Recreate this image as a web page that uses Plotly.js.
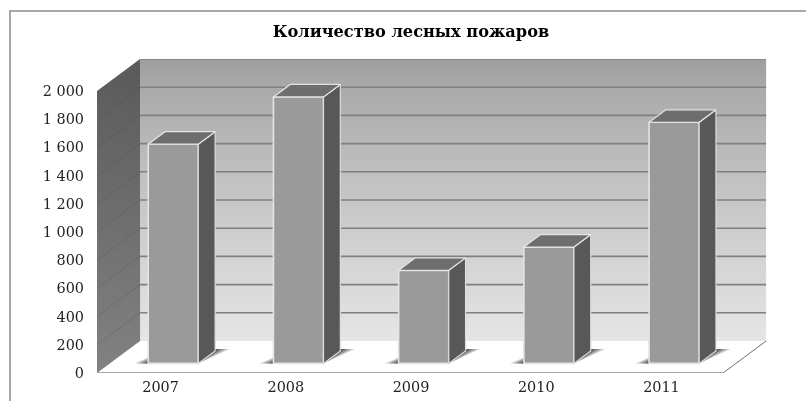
<!DOCTYPE html>
<html><head><meta charset="utf-8">
<script src="https://cdn.plot.ly/plotly-3.0.1.min.js"></script>
<style>html,body{margin:0;padding:0;background:#fff;overflow:hidden}
#frame{position:absolute;left:9px;top:10px;width:900px;height:500px;border:2px solid #a8a8a8;box-sizing:border-box;filter:blur(0.4px)}
#chart{position:absolute;left:0;top:0;width:806px;height:401px;filter:blur(0.45px)}</style>
</head><body>
<div id="frame"></div>
<div id="chart"></div>
<script>
const categories = ['2007','2008','2009','2010','2011'];
const fires = [1555, 1890, 660, 825, 1710];
const yTicks = [0,200,400,600,800,1000,1200,1400,1600,1800,2000];
const yTickLabels = ['0','200','400','600','800','1 000','1 200','1 400','1 600','1 800','2 000'];
const chartTitle = 'Количество лесных пожаров';

const yMax = 2000;
const depthX = 0.344, depthY = 227;      // full-depth shift, in data units
const xMin = -0.5, xMax = 4.851, xFloorMax = 4.5;
const barHalf = 0.2, barShift = 0.006, dFront = 0.30, dBack = 0.69, dShadow = 0.75;
const P = (x,y,d) => [x + d*depthX, y + d*depthY];
function poly(pts, extra, second){
  const pp = pts.concat([pts[0]]);
  return Object.assign({type:'scatter',mode:'lines',x:pp.map(p=>p[0]),y:pp.map(p=>p[1]),
    fill:'toself',line:{width:0},hoverinfo:'skip',showlegend:false}, second?{xaxis:'x2',yaxis:'y2'}:{}, extra);
}
function vgrad(stops){return {fillgradient:{type:'vertical',colorscale:stops}};}
const traces = [];
// floor
traces.push(poly([P(xMin,0,0),P(xFloorMax,0,0),P(xFloorMax,0,1),P(xMin,0,1)],{fillcolor:'#ffffff'}));
// back wall
traces.push(poly([P(xMin,0,1),P(xFloorMax,0,1),P(xFloorMax,yMax,1),P(xMin,yMax,1)],
  vgrad([[0,'#e6e6e6'],[0.5,'#c6c6c6'],[0.9,'#aaaaaa'],[1,'#9e9e9e']])));
// left wall
traces.push(poly([P(xMin,0,0),P(xMin,0,1),P(xMin,yMax,1),P(xMin,yMax,0)],
  vgrad([[0,'#828282'],[1,'#5a5a5a']])));
// gridlines
const gx=[],gy=[],lx=[],ly=[];
yTicks.forEach(t=>{
  const a=P(xMin,t,1), b=P(xFloorMax,t,1), c=P(xMin,t,0);
  if(t>0){gx.push(a[0],b[0],null); gy.push(a[1],b[1],null);}
  if(t>0 && t<yMax){lx.push(c[0],a[0],null); ly.push(c[1],a[1],null);}
});
traces.push({type:'scatter',mode:'lines',x:gx,y:gy,line:{color:'#808080',width:1.6},hoverinfo:'skip',showlegend:false});
traces.push({type:'scatter',mode:'lines',x:lx,y:ly,line:{color:'rgba(70,70,70,0.22)',width:1},hoverinfo:'skip',showlegend:false});
// floor edges
const e1=[P(xMin,0,0),P(xFloorMax,0,0)];
traces.push({type:'scatter',mode:'lines',x:e1.map(p=>p[0]),y:e1.map(p=>p[1]),line:{color:'#a6a6a6',width:2},hoverinfo:'skip',showlegend:false});
const e2=[P(xFloorMax,0,0),P(xFloorMax,0,1)];
traces.push({type:'scatter',mode:'lines',x:e2.map(p=>p[0]),y:e2.map(p=>p[1]),line:{color:'#6e6e6e',width:1},hoverinfo:'skip',showlegend:false});
// floor shadows (on the base axes so the bars sit above them)
categories.forEach((c,i)=>{
  const cx = i + barShift;
  [[0.11,0.095,0.25],[0.08,0.065,0.35],[0.05,0.035,0.45],[0.025,0.012,0.55]].forEach(([a,k,alpha])=>{
    traces.push(poly([P(cx-barHalf-a,0,dFront),P(cx+barHalf,0,dFront),P(cx+barHalf+k,0,dShadow),P(cx-barHalf,0,dShadow)],
      {fillcolor:'rgba(70,70,70,'+alpha+')'},false));
  });
});
// bars: front face
traces.push({type:'bar',x:categories.map((c,i)=>P(i+barShift,0,dFront)[0]),y:fires,base:fires.map(()=>P(0,0,dFront)[1]),
  width:barHalf*2,xaxis:'x2',yaxis:'y2',marker:{color:'#9a9a9a',line:{color:'#e4e4e4',width:1.6}},hoverinfo:'skip',showlegend:false});
// side + top faces
fires.forEach((v,i)=>{
  const cx = i + barShift;
  traces.push(poly([P(cx+barHalf,0,dFront),P(cx+barHalf,0,dBack),P(cx+barHalf,v,dBack),P(cx+barHalf,v,dFront)],
    {fillcolor:'#585858',line:{color:'#dcdcdc',width:1.2}},true));
  traces.push(poly([P(cx-barHalf,v,dFront),P(cx+barHalf,v,dFront),P(cx+barHalf,v,dBack),P(cx-barHalf,v,dBack)],
    {fillcolor:'#6e6e6e',line:{color:'#e4e4e4',width:1.2}},true));
});
const yRange=[0, yMax+depthY];
const tfont={family:'"DejaVu Serif",serif',size:14.4,color:'#222'};
const layout={
  width:806,height:401,paper_bgcolor:'rgba(0,0,0,0)',plot_bgcolor:'rgba(0,0,0,0)',
  margin:{l:97,r:39,t:59,b:28,pad:0},showlegend:false,barmode:'overlay',
  title:{text:'<b>'+chartTitle+'</b>',x:411/806,xanchor:'center',y:1-31/401,yanchor:'middle',
    font:{family:'"DejaVu Serif",serif',size:16.2,color:'#000'}},
  xaxis:{range:[xMin,xMax],tickmode:'array',tickvals:categories.map((c,i)=>i+0.008),ticktext:categories,
    showgrid:false,zeroline:false,showline:false,ticks:'',ticklabelstandoff:4,tickfont:tfont,fixedrange:true},
  yaxis:{range:yRange,tickmode:'array',tickvals:yTicks,ticktext:yTickLabels,
    showgrid:false,zeroline:false,showline:false,ticks:'',ticklabelstandoff:12,tickfont:tfont,fixedrange:true},
  xaxis2:{range:[xMin,xMax],overlaying:'x',visible:false,fixedrange:true},
  yaxis2:{range:yRange,overlaying:'y',visible:false,fixedrange:true}
};
Plotly.newPlot('chart',traces,layout,{displayModeBar:false,staticPlot:true});
</script>
</body></html>
